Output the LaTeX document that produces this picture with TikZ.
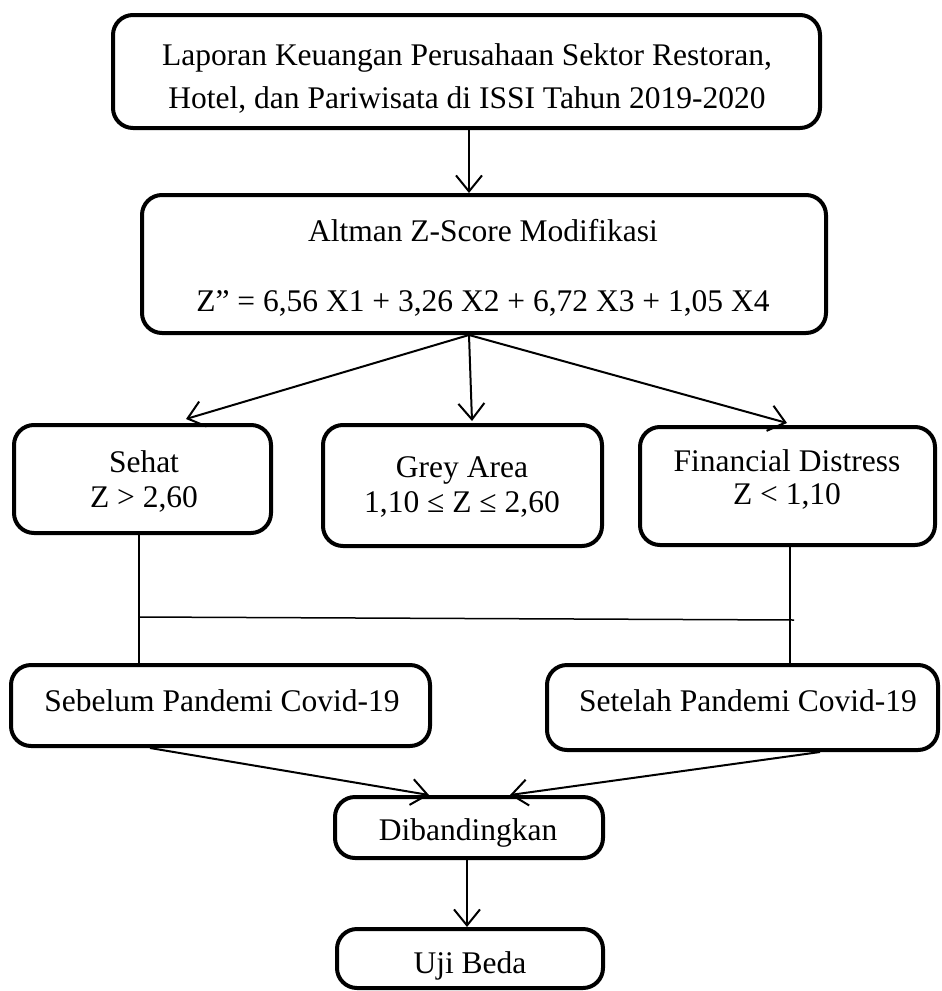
\documentclass[tikz,border=0pt]{standalone}
\usepackage{fontspec}
\setmainfont{Liberation Serif}
\usetikzlibrary{arrows.meta,calc}
\begin{document}
\begin{tikzpicture}[x=1pt,y=-1pt,
  box/.style={draw,line width=4pt,rounded corners=20pt,inner sep=0pt},
  txt/.style={align=center,inner sep=0pt,font=\fontsize{31.5}{43}\selectfont},
  stxt/.style={align=center,inner sep=0pt,font=\fontsize{31.5}{35}\selectfont},
  arr/.style={line width=2pt,-{Straight Barb[length=16pt,width=26pt,line width=2pt]}},
  ln/.style={line width=1.5pt}]
\useasboundingbox (0,0) rectangle (942,991);
\node[box,minimum width=707pt,minimum height=113pt] (top) at (466.5,71.5) {};
\node[txt] (topT) at (467,78)
  {Laporan Keuangan Perusahaan Sektor Restoran,\\Hotel, dan Pariwisata di ISSI Tahun 2019-2020};
\node[box,minimum width=684pt,minimum height=138pt] (alt) at (484,264) {};
\node[txt] (altT) at (483,268)
  {Altman Z-Score Modifikasi\\[27pt]Z” = 6,56 X1 + 3,26 X2 + 6,72 X3 + 1,05 X4};
\node[box,minimum width=257pt,minimum height=108pt] (sehat) at (142.5,479) {};
\node[stxt] (sehatT) at (144,481.5) {Sehat\\Z > 2,60};
\node[box,minimum width=279pt,minimum height=121pt] (grey) at (462.5,485.5) {};
\node[stxt] (greyT) at (462,486.5) {Grey Area\\1,10 ≤ Z ≤ 2,60};
\node[box,minimum width=295pt,minimum height=118pt] (fin) at (787.5,486) {};
\node[stxt,font=\fontsize{31.5}{33}\selectfont] (finT) at (787,479.5) {Financial Distress\\Z < 1,10};
\node[box,minimum width=419pt,minimum height=81pt] (sebelum) at (220.5,705.5) {};
\node[txt] (sebelumT) at (222,700.5) {Sebelum Pandemi Covid-19};
\node[box,minimum width=391pt,minimum height=85pt] (setelah) at (742.5,707.5) {};
\node[txt] (setelahT) at (748,700.5) {Setelah Pandemi Covid-19};
\node[box,minimum width=268pt,minimum height=61pt] (banding) at (469,827.5) {};
\node[txt] (bandingT) at (468,832.5) {Dibandingkan};
\node[box,minimum width=266pt,minimum height=59pt] (uji) at (470,958.5) {};
\node[txt] (ujiT) at (470,965.5) {Uji Beda};
\coordinate (cx) at (469,0);
\coordinate (cl) at (139,0);
\coordinate (cr) at (790,0);
\coordinate (hl) at (139,617);
\coordinate (hr) at (794,620);
\draw[arr] (top.south -| cx) -- (alt.north -| cx);
\draw[arr] (alt.south -| cx) -- ($(sehat.north -| 186,0)+(0,-4)$);
\draw[arr] (alt.south -| cx) -- ($(grey.north -| 472,0)+(0,-2)$);
\draw[arr] (alt.south -| cx) -- ($(fin.north -| 787,0)+(0,-2)$);
\draw[ln] (sehat.south -| cl) -- (sebelum.north -| cl);
\draw[ln] (fin.south -| cr) -- (setelah.north -| cr);
\draw[ln] (hl) -- (hr);
\draw[arr] (sebelum.south -| 150,0) -- (banding.north -| 429,0);
\draw[arr] (setelah.south -| 820,0) -- (banding.north -| 510,0);
\draw[arr] (banding.south -| 467,0) -- (uji.north -| 467,0);
\end{tikzpicture}
\end{document}
